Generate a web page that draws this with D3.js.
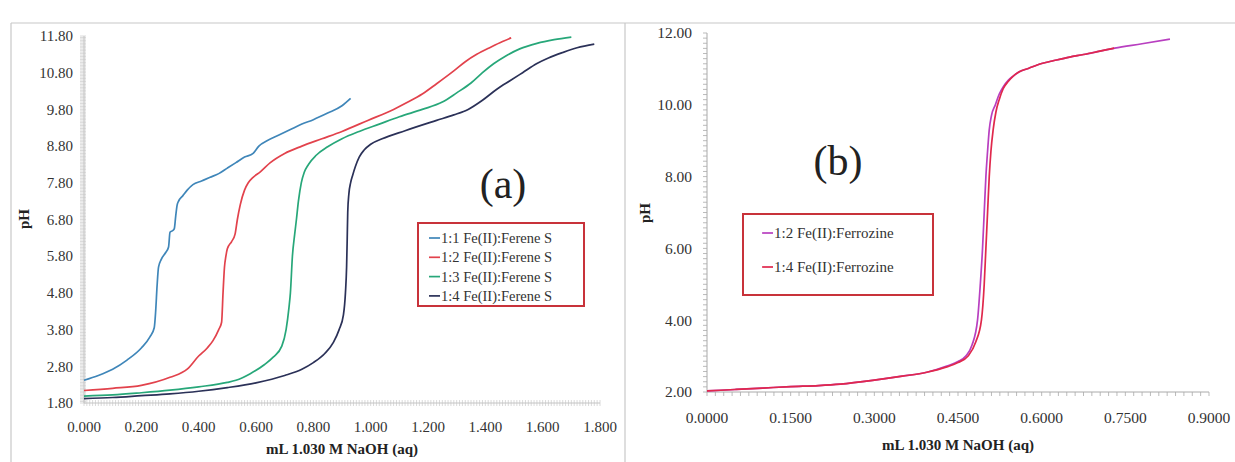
<!DOCTYPE html>
<html><head><meta charset="utf-8">
<script src="https://cdn.jsdelivr.net/npm/d3@7"></script>
<style>
body{margin:0;background:#fff;}
svg{display:block;}
text{font-family:"Liberation Serif","DejaVu Serif",serif;}
</style></head>
<body>
<svg id="c" width="1235" height="462"></svg>
<script>
// ---------- DATA ----------
// Panel (a): mL NaOH vs pH
const aLabels = ["1:1 Fe(II):Ferene S","1:2 Fe(II):Ferene S","1:3 Fe(II):Ferene S","1:4 Fe(II):Ferene S"];
const aColors = ["#3f86b9","#e2424c","#27a779","#2b3158"];
const a11x = [0,0.05,0.10,0.15,0.20,0.23,0.245,0.25,0.255,0.26,0.27,0.285,0.295,0.30,0.31,0.315,0.32,0.325,0.33,0.345,0.36,0.38,0.41,0.44,0.47,0.50,0.53,0.56,0.59,0.61,0.64,0.68,0.72,0.76,0.80,0.85,0.90,0.93];
const a11y = [2.42,2.55,2.72,2.97,3.30,3.60,3.85,4.30,5.00,5.50,5.72,5.90,6.05,6.45,6.50,6.55,6.90,7.20,7.30,7.45,7.60,7.75,7.85,7.95,8.05,8.20,8.35,8.50,8.60,8.80,8.95,9.10,9.25,9.40,9.52,9.70,9.90,10.10];
const a12x = [0,0.10,0.20,0.30,0.36,0.40,0.43,0.45,0.47,0.48,0.485,0.49,0.495,0.50,0.515,0.527,0.535,0.545,0.56,0.573,0.59,0.615,0.65,0.70,0.76,0.83,0.90,0.99,1.08,1.13,1.18,1.23,1.29,1.33,1.37,1.42,1.46,1.49];
const a12y = [2.14,2.20,2.28,2.50,2.72,3.08,3.30,3.50,3.80,4.00,4.80,5.50,5.80,6.00,6.20,6.40,6.80,7.20,7.60,7.80,7.95,8.10,8.35,8.60,8.80,9.00,9.20,9.50,9.80,10.00,10.22,10.50,10.85,11.10,11.30,11.50,11.65,11.75];
const a13x = [0,0.10,0.20,0.30,0.40,0.50,0.53,0.58,0.63,0.66,0.69,0.705,0.715,0.72,0.727,0.735,0.741,0.748,0.758,0.768,0.783,0.81,0.85,0.90,0.96,1.03,1.10,1.18,1.25,1.30,1.35,1.39,1.43,1.47,1.52,1.58,1.64,1.70];
const a13y = [1.99,2.02,2.08,2.15,2.24,2.36,2.42,2.60,2.85,3.05,3.35,3.80,4.40,4.80,5.80,6.40,6.80,7.30,7.80,8.08,8.30,8.55,8.78,9.00,9.20,9.40,9.60,9.80,10.00,10.25,10.52,10.80,11.05,11.25,11.45,11.60,11.70,11.77];
const a14x = [0,0.10,0.20,0.30,0.40,0.50,0.60,0.70,0.76,0.80,0.84,0.87,0.89,0.905,0.912,0.916,0.918,0.920,0.924,0.930,0.937,0.947,0.960,0.978,1.00,1.04,1.12,1.23,1.29,1.34,1.39,1.44,1.49,1.53,1.58,1.62,1.67,1.72,1.78];
const a14y = [1.92,1.95,2.00,2.05,2.12,2.22,2.35,2.55,2.72,2.90,3.15,3.45,3.80,4.20,4.80,5.50,6.20,7.00,7.50,7.80,8.00,8.25,8.50,8.70,8.85,9.00,9.22,9.50,9.65,9.80,10.05,10.35,10.60,10.80,11.05,11.20,11.35,11.48,11.58];
const aXTicks = [0,0.2,0.4,0.6,0.8,1.0,1.2,1.4,1.6,1.8];
const aYTicks = [1.8,2.8,3.8,4.8,5.8,6.8,7.8,8.8,9.8,10.8,11.8];

// Panel (b)
const bLabels = ["1:2 Fe(II):Ferrozine","1:4 Fe(II):Ferrozine"];
const bColors = ["#b83fc0","#e0284c"];
const b12x = [0,0.05,0.10,0.15,0.20,0.239,0.30,0.35,0.394,0.43,0.45,0.464,0.475,0.485,0.490,0.494,0.497,0.500,0.503,0.506,0.510,0.517,0.524,0.531,0.540,0.549,0.560,0.577,0.600,0.619,0.650,0.675,0.700,0.731,0.780,0.830];
const b12y = [2.03,2.07,2.11,2.15,2.18,2.22,2.33,2.44,2.55,2.72,2.85,3.00,3.30,4.00,5.00,6.00,7.00,8.00,8.70,9.30,9.70,10.00,10.30,10.50,10.68,10.80,10.92,11.02,11.15,11.22,11.33,11.40,11.48,11.58,11.70,11.83];
const b14x = [0,0.05,0.10,0.15,0.20,0.239,0.30,0.35,0.394,0.43,0.45,0.468,0.482,0.492,0.497,0.500,0.503,0.506,0.509,0.513,0.518,0.524,0.531,0.540,0.549,0.560,0.577,0.600,0.619,0.650,0.675,0.700,0.730];
const b14y = [2.03,2.07,2.11,2.15,2.18,2.22,2.33,2.44,2.55,2.70,2.82,3.00,3.40,4.00,5.00,6.00,7.00,8.00,8.70,9.30,9.80,10.15,10.45,10.65,10.80,10.92,11.02,11.15,11.22,11.33,11.40,11.48,11.58];
const bXTicks = [0,0.15,0.30,0.45,0.60,0.75,0.90];
const bYTicks = [2,4,6,8,10,12];

// ---------- DRAW ----------
const svg = d3.select("#c");
const zip = (xs, ys) => xs.map((x, i) => [x, ys[i]]);

const frame = svg.append("g").attr("stroke", "#c8c8c8").attr("stroke-width", 1.2);
frame.append("line").attr("x1", 11).attr("x2", 1235).attr("y1", 23).attr("y2", 23);
frame.append("line").attr("x1", 11).attr("x2", 11).attr("y1", 23).attr("y2", 462);
frame.append("line").attr("x1", 625).attr("x2", 625).attr("y1", 23).attr("y2", 462);

// ----- Panel a -----
const xa = d3.scaleLinear().domain([0, 1.8]).range([84, 600]);
const ya = d3.scaleLinear().domain([1.8, 11.8]).range([403, 36]);
const ga = svg.append("g");

ga.append("g").selectAll("line").data(d3.range(0, 1.8001, 0.01)).join("line")
  .attr("x1", d => xa(d)).attr("x2", d => xa(d)).attr("y1", 400).attr("y2", 406)
  .attr("stroke", "#d0d0d0").attr("stroke-width", 0.8);
ga.append("g").selectAll("line").data(d3.range(1.8, 11.8001, 0.04)).join("line")
  .attr("x1", 80).attr("x2", 86).attr("y1", d => ya(d)).attr("y2", d => ya(d))
  .attr("stroke", "#d0d0d0").attr("stroke-width", 0.8);
ga.append("line").attr("x1", xa(0)).attr("x2", xa(1.8)).attr("y1", ya(1.8)).attr("y2", ya(1.8)).attr("stroke", "#c4c4c4");
ga.append("line").attr("x1", xa(0)).attr("x2", xa(0)).attr("y1", ya(1.8)).attr("y2", ya(11.8)).attr("stroke", "#c4c4c4");

ga.append("g").selectAll("text").data(aYTicks).join("text")
  .attr("x", 73).attr("y", d => ya(d)).attr("dy", "0.35em").attr("text-anchor", "end")
  .attr("font-size", 15).attr("fill", "#333").text(d => d3.format(".2f")(d));
ga.append("g").selectAll("text").data(aXTicks).join("text")
  .attr("x", d => xa(d)).attr("y", 427).attr("dy", "0.35em").attr("text-anchor", "middle")
  .attr("font-size", 15).attr("fill", "#333").text(d => d3.format(".3f")(d));

ga.append("text").attr("x", 342).attr("y", 454).attr("text-anchor", "middle")
  .attr("font-size", 15).attr("font-weight", "bold").attr("fill", "#222").text("mL 1.030 M NaOH (aq)");
ga.append("text").attr("transform", "translate(29,219) rotate(-90)").attr("text-anchor", "middle")
  .attr("font-size", 15).attr("font-weight", "bold").attr("fill", "#222").text("pH");

const lineA = d3.line().x(d => xa(d[0])).y(d => ya(d[1])).curve(d3.curveMonotoneX);
const aSeries = [zip(a11x, a11y), zip(a12x, a12y), zip(a13x, a13y), zip(a14x, a14y)];
ga.append("g").selectAll("path").data(aSeries).join("path")
  .attr("d", lineA).attr("fill", "none").attr("stroke", (d, i) => aColors[i]).attr("stroke-width", 1.7);

ga.append("text").attr("x", 503).attr("y", 198).attr("text-anchor", "middle")
  .attr("font-size", 42).attr("fill", "#222").text("(a)");

const la = ga.append("g");
la.append("rect").attr("x", 418).attr("y", 223).attr("width", 166).attr("height", 83)
  .attr("fill", "#fff").attr("stroke", "#c8323a").attr("stroke-width", 2);
aLabels.forEach((t, i) => {
  const y = 238 + i * 19.3;
  la.append("line").attr("x1", 429).attr("x2", 440).attr("y1", y).attr("y2", y)
    .attr("stroke", aColors[i]).attr("stroke-width", 1.7);
  la.append("text").attr("x", 441).attr("y", y).attr("dy", "0.35em")
    .attr("font-size", 14.5).attr("fill", "#333").text(t);
});

// ----- Panel b -----
const xb = d3.scaleLinear().domain([0, 0.9]).range([707, 1209]);
const yb = d3.scaleLinear().domain([2, 12]).range([392, 33]);
const gb = svg.append("g");

gb.append("g").selectAll("line").data(d3.range(0, 0.9001, 0.015)).join("line")
  .attr("x1", d => xb(d)).attr("x2", d => xb(d)).attr("y1", 392).attr("y2", 396)
  .attr("stroke", "#aaa").attr("stroke-width", 0.8);
gb.append("g").selectAll("line").data(d3.range(2, 12.0001, 2 / 14)).join("line")
  .attr("x1", 703).attr("x2", 707).attr("y1", d => yb(d)).attr("y2", d => yb(d))
  .attr("stroke", "#aaa").attr("stroke-width", 0.8);
gb.append("line").attr("x1", xb(0)).attr("x2", xb(0.9)).attr("y1", yb(2)).attr("y2", yb(2)).attr("stroke", "#aaa");
gb.append("line").attr("x1", xb(0)).attr("x2", xb(0)).attr("y1", yb(2)).attr("y2", yb(12)).attr("stroke", "#aaa");

gb.append("g").selectAll("text").data(bYTicks).join("text")
  .attr("x", 692).attr("y", d => yb(d)).attr("dy", "0.35em").attr("text-anchor", "end")
  .attr("font-size", 15.5).attr("fill", "#333").text(d => d3.format(".2f")(d));
gb.append("g").selectAll("text").data(bXTicks).join("text")
  .attr("x", d => xb(d)).attr("y", 418).attr("dy", "0.35em").attr("text-anchor", "middle")
  .attr("font-size", 15.5).attr("fill", "#333").text(d => d3.format(".4f")(d));

gb.append("text").attr("x", 958).attr("y", 450).attr("text-anchor", "middle")
  .attr("font-size", 15).attr("font-weight", "bold").attr("fill", "#222").text("mL 1.030 M NaOH (aq)");
gb.append("text").attr("transform", "translate(650,213) rotate(-90)").attr("text-anchor", "middle")
  .attr("font-size", 15).attr("font-weight", "bold").attr("fill", "#222").text("pH");

const lineB = d3.line().x(d => xb(d[0])).y(d => yb(d[1])).curve(d3.curveMonotoneX);
const bSeries = [zip(b12x, b12y), zip(b14x, b14y)];
gb.append("g").selectAll("path").data(bSeries).join("path")
  .attr("d", lineB).attr("fill", "none").attr("stroke", (d, i) => bColors[i]).attr("stroke-width", 1.7);

gb.append("text").attr("x", 838).attr("y", 175).attr("text-anchor", "middle")
  .attr("font-size", 42).attr("fill", "#222").text("(b)");

const lb = gb.append("g");
lb.append("rect").attr("x", 743).attr("y", 214).attr("width", 190).attr("height", 81)
  .attr("fill", "#fff").attr("stroke", "#c8323a").attr("stroke-width", 2);
bLabels.forEach((t, i) => {
  const y = 233 + i * 34;
  lb.append("line").attr("x1", 762).attr("x2", 773).attr("y1", y).attr("y2", y)
    .attr("stroke", bColors[i]).attr("stroke-width", 1.7);
  lb.append("text").attr("x", 774).attr("y", y).attr("dy", "0.35em")
    .attr("font-size", 15).attr("fill", "#333").text(t);
});
</script>
</body></html>
